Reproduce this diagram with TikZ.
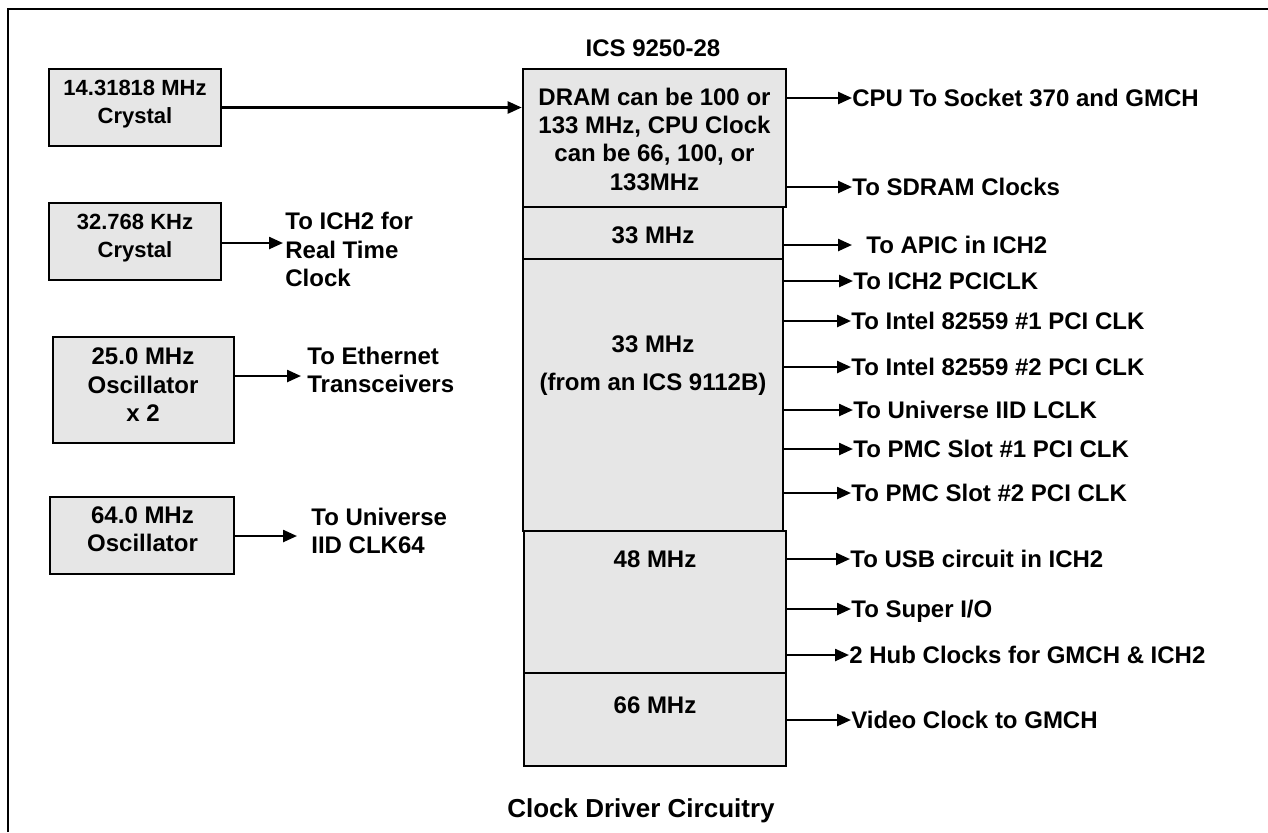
\documentclass[tikz,border=0pt]{standalone}
\usepackage{fontspec}
\setmainfont{Liberation Sans}
\usetikzlibrary{arrows.meta}
\definecolor{boxfill}{RGB}{230,230,230}
\begin{document}
\begin{tikzpicture}[x=0.5pt,y=-0.5pt,
  boxsh/.style={draw=black, line width=1.3pt, fill=boxfill, inner sep=0pt, rectangle},
  txt/.style={font=\bfseries\fontsize{12}{14.2}\selectfont, inner sep=0pt, text depth=0pt, align=center},
  smalltxt/.style={font=\bfseries\fontsize{11}{14}\selectfont, inner sep=0pt, text depth=0pt, align=center},
  lbl/.style={font=\bfseries\fontsize{12}{14.2}\selectfont, inner sep=0pt, text depth=0pt, anchor=west, align=left},
  arr/.style={line width=1.2pt, -{Triangle[length=7pt,width=6pt]}}]
\useasboundingbox (0,0) rectangle (1268,832);
% frame
\draw[line width=1.2pt] (8,832) -- (8,9) -- (1268,9);

% left source boxes
\node[boxsh, minimum width=86pt, minimum height=38.5pt] (b1) at (135,107.5) {};
\node[boxsh, minimum width=86pt, minimum height=38.5pt] (b2) at (135,241.5) {};
\node[boxsh, minimum width=90.5pt, minimum height=53pt] (b3) at (143.5,390) {};
\node[boxsh, minimum width=92pt, minimum height=38.5pt] (b4) at (142,535.5) {};
\node[smalltxt] (b1t) at (135,102) {14.31818 MHz\\Crystal};
\node[smalltxt] (b2t) at (135,236) {32.768 KHz\\Crystal};
\node[txt] (b3t) at (143,385) {25.0 MHz\\Oscillator\\x 2};
\node[txt] (b4t) at (142.5,529) {64.0 MHz\\Oscillator};

% central clock chip
\node[txt] (title) at (653,48) {ICS 9250-28};
\node[boxsh, minimum width=131.5pt, minimum height=69pt] (S1) at (654.5,138) {};
\node[boxsh, minimum width=130pt, minimum height=26pt] (S2) at (653,233) {};
\node[boxsh, minimum width=130pt, minimum height=136pt] (S3) at (653,395) {};
\node[boxsh, minimum width=131pt, minimum height=71pt] (S4) at (655,602) {};
\node[boxsh, minimum width=131pt, minimum height=46.5pt] (S5) at (655,719.5) {};
\node[txt] (S1t) at (654.5,139) {DRAM can be 100 or\\133 MHz, CPU Clock\\can be 66, 100, or\\133MHz};
\node[txt] (S2t) at (653,235) {33 MHz};
\node[txt] (S3t) at (653,363) {33 MHz\\[4.8pt](from an ICS 9112B)};
\node[txt] (S4t) at (655,559) {48 MHz};
\node[txt] (S5t) at (655,705) {66 MHz};
\node[font=\bfseries\fontsize{13}{15}\selectfont, inner sep=0pt, text depth=0pt] (cap) at (641,808) {Clock Driver Circuitry};

% left labels
\node[lbl] (t2) at (285,249.5) {To ICH2 for\\Real Time\\Clock};
\node[lbl] (t3) at (307,370) {To Ethernet\\Transceivers};
\node[lbl] (t4) at (311,530.5) {To Universe\\IID CLK64};
\coordinate (t2a) at (283,243);
\coordinate (t3a) at (301,376);
\coordinate (t4a) at (297,536);
\draw[arr] (b1.east) -- (S1.west |- b1.east);
\draw[arr] (b2.east |- t2a) -- (t2a);
\draw[arr] (b3.east |- t3a) -- (t3a);
\draw[arr] (b4.east |- t4a) -- (t4a);

% right labels
\node[lbl] (r1) at (852,98) {CPU To Socket 370 and GMCH};
\node[lbl] (r2) at (852,187) {To SDRAM Clocks};
\node[lbl] (r3) at (866,245) {To APIC in ICH2};
\coordinate (r3a) at (852,245);
\node[lbl] (r4) at (853,281) {To ICH2 PCICLK};
\node[lbl] (r5) at (851,321) {To Intel 82559 \#1 PCI CLK};
\node[lbl] (r6) at (851,367) {To Intel 82559 \#2 PCI CLK};
\node[lbl] (r7) at (853,410) {To Universe IID LCLK};
\node[lbl] (r8) at (853,449) {To PMC Slot \#1 PCI CLK};
\node[lbl] (r9) at (851,493) {To PMC Slot \#2 PCI CLK};
\node[lbl] (r10) at (850,559) {To USB circuit in ICH2};
\node[lbl] (r11) at (851,609) {To Super I/O};
\node[lbl] (r12) at (849,655) {2 Hub Clocks for GMCH \& ICH2};
\node[lbl] (r13) at (851,720) {Video Clock to GMCH};

\draw[arr] (S1.east |- r1.west) -- (r1.west);
\draw[arr] (S1.east |- r2.west) -- (r2.west);
\draw[arr] (S2.east |- r3a) -- (r3a);
\foreach \r in {r4,r5,r6,r7,r8,r9}{\draw[arr] (S3.east |- \r.west) -- (\r.west);}
\foreach \r in {r10,r11,r12}{\draw[arr] (S4.east |- \r.west) -- (\r.west);}
\draw[arr] (S5.east |- r13.west) -- (r13.west);
\end{tikzpicture}
\end{document}
